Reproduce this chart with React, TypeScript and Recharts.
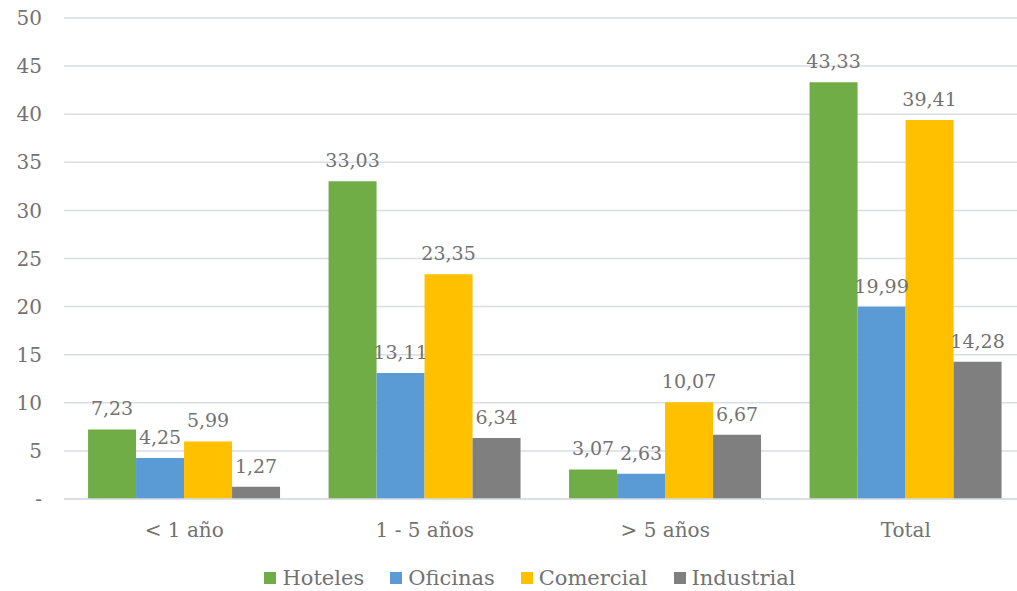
import React from "react";
import {
  Bar,
  BarChart,
  CartesianGrid,
  LabelList,
  Legend,
  XAxis,
  YAxis,
} from "recharts";

const categories = ["< 1 año", "1 - 5 años", "> 5 años", "Total"];
const hoteles = [7.23, 33.03, 3.07, 43.33];
const oficinas = [4.25, 13.11, 2.63, 19.99];
const comercial = [5.99, 23.35, 10.07, 39.41];
const industrial = [1.27, 6.34, 6.67, 14.28];
const yTicks = [0, 5, 10, 15, 20, 25, 30, 35, 40, 45, 50];

const seriesList = [
  { key: "Hoteles", values: hoteles, color: "#70AD47" },
  { key: "Oficinas", values: oficinas, color: "#5B9BD5" },
  { key: "Comercial", values: comercial, color: "#FFC000" },
  { key: "Industrial", values: industrial, color: "#7F7F7F" },
];

const data = categories.map((name, i) => {
  const row: Record<string, string | number> = { name };
  seriesList.forEach((s) => {
    row[s.key] = s.values[i];
  });
  return row;
});

const FONT = "'DejaVu Serif', Georgia, serif";
const TEXT = "#727272";

const fmt = (v: any) => String(v).replace(".", ",");

const LegendContent = () => (
  <div
    style={{
      display: "flex",
      justifyContent: "center",
      alignItems: "center",
      height: 26,
      fontFamily: FONT,
      fontSize: 21,
      color: TEXT,
    }}
  >
    {seriesList.map((s) => (
      <div
        key={s.key}
        style={{ display: "flex", alignItems: "center", margin: "0 13px" }}
      >
        <span
          style={{
            width: 12,
            height: 12,
            background: s.color,
            display: "inline-block",
            marginRight: 6,
          }}
        />
        <span>{s.key}</span>
      </div>
    ))}
  </div>
);

export default function App() {
  return (
    <div style={{ position: "absolute", left: 0, top: 0 }}>
      <BarChart
        width={1017}
        height={591}
        data={data}
        margin={{ top: 18, right: -9, left: 0, bottom: 0 }}
        barCategoryGap="10%"
        barGap={0}
      >
        <CartesianGrid vertical={false} stroke="#D9DDE5" strokeWidth={1.5} />
        <XAxis
          dataKey="name"
          height={66}
          tickLine={false}
          axisLine={{ stroke: "#D9DDE5", strokeWidth: 1.5 }}
          tickMargin={18}
          tick={{ fill: TEXT, fontSize: 20, fontFamily: FONT }}
        />
        <YAxis
          width={64}
          domain={[0, 50]}
          ticks={yTicks}
          interval={0}
          axisLine={false}
          tickLine={false}
          tickMargin={16}
          tickFormatter={(v: number) => (v === 0 ? "-" : String(v))}
          tick={{ fill: TEXT, fontSize: 20, fontFamily: FONT }}
        />
        <Legend
          verticalAlign="bottom"
          content={<LegendContent />}
          wrapperStyle={{ left: 0, width: 1060 }}
        />
        {seriesList.map((s) => (
          <Bar
            key={s.key}
            dataKey={s.key}
            fill={s.color}
            isAnimationActive={false}
          >
            <LabelList
              dataKey={s.key}
              position="top"
              offset={14}
              formatter={fmt}
              style={{ fill: TEXT, fontSize: 19, fontFamily: FONT }}
            />
          </Bar>
        ))}
      </BarChart>
    </div>
  );
}
